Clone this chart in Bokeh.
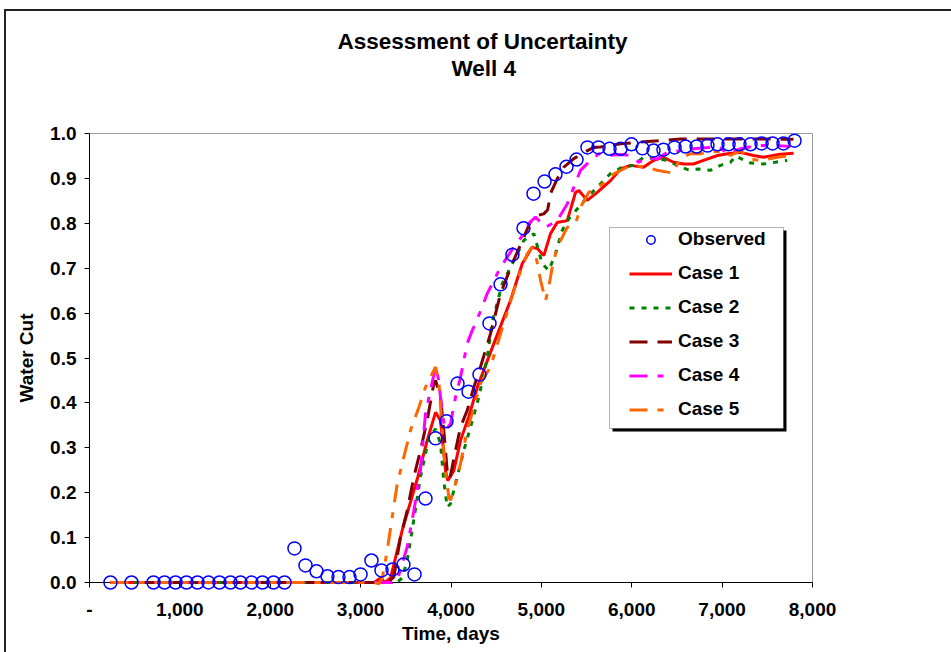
from bokeh.plotting import figure
from bokeh.models import (Range1d, FixedTicker, NumeralTickFormatter, Legend, LegendItem,
                          Title, BoxAnnotation)
from bokeh.embed import file_html
from bokeh.resources import INLINE

# ---------------- data ----------------
obs_days = [232, 465, 708, 830, 952, 1073, 1195, 1317, 1438, 1560, 1671, 1793, 1914, 2036, 2158,
            2268, 2390, 2512, 2633, 2755, 2877, 2999, 3120, 3231, 3353, 3474, 3596, 3718,
            3829, 3950, 4072, 4194, 4315, 4426, 4548, 4680, 4802, 4913, 5035, 5156, 5278, 5389,
            5510, 5632, 5754, 5876, 5997, 6119, 6241, 6351, 6473, 6595, 6717, 6838, 6949, 7071,
            7192, 7314, 7436, 7558, 7679, 7801]
obs_wc = [0.0, 0.0, 0.0, 0.0, 0.0, 0.0, 0.0, 0.0, 0.0, 0.0, 0.0, 0.0, 0.0, 0.0, 0.0,
          0.076, 0.038, 0.025, 0.014, 0.012, 0.012, 0.018, 0.049, 0.027, 0.029, 0.040, 0.018, 0.187,
          0.321, 0.359, 0.443, 0.425, 0.463, 0.577, 0.664, 0.730, 0.789, 0.866, 0.893, 0.909, 0.926, 0.942,
          0.969, 0.969, 0.966, 0.966, 0.976, 0.967, 0.962, 0.964, 0.969, 0.971, 0.971, 0.973, 0.976, 0.976,
          0.976, 0.976, 0.978, 0.978, 0.978, 0.984]

case1_days = [232, 3150, 3220, 3270, 3331, 3460, 3633, 3736, 3829, 3884, 3939, 3965, 4031, 4105, 4197,
              4300, 4474, 4658, 4788, 4898, 4961, 5027, 5101, 5175, 5286, 5378, 5415, 5507, 5618, 5765,
              5876, 5986, 6130, 6241, 6351, 6462, 6573, 6683, 6794, 6949, 7060, 7203, 7347, 7458, 7613, 7790]
case1_wc = [0.0, 0.0, 0.010, 0.0, 0.010, 0.116, 0.235, 0.316, 0.379, 0.361, 0.249, 0.227, 0.249, 0.316, 0.370,
            0.440, 0.532, 0.628, 0.710, 0.747, 0.743, 0.728, 0.777, 0.802, 0.806, 0.869, 0.873, 0.851, 0.869, 0.895,
            0.921, 0.929, 0.925, 0.940, 0.947, 0.936, 0.932, 0.932, 0.940, 0.951, 0.955, 0.958, 0.951, 0.947, 0.953, 0.956]

case2_days = [232, 3300, 3400, 3460, 3515, 3570, 3662, 3718, 3754, 3829, 3884, 3920, 3958, 3994, 4068,
              4142, 4216, 4308, 4400, 4456, 4567, 4677, 4806, 4917, 5009, 5082, 5156, 5230, 5304, 5415,
              5507, 5618, 5765, 5894, 6020, 6130, 6263, 6392, 6503, 6628, 6739, 6871, 6982, 7093, 7150,
              7300, 7458, 7590, 7720]
case2_wc = [0.0, 0.0, 0.0, 0.010, 0.049, 0.116, 0.235, 0.287, 0.324, 0.342, 0.309, 0.227, 0.168, 0.175, 0.235,
            0.294, 0.346, 0.413, 0.500, 0.580, 0.665, 0.710, 0.762, 0.777, 0.710, 0.695, 0.732, 0.784, 0.810, 0.836,
            0.858, 0.880, 0.911, 0.925, 0.929, 0.947, 0.944, 0.940, 0.929, 0.919, 0.921, 0.918, 0.929, 0.936, 0.950,
            0.935, 0.932, 0.936, 0.940]

case3_days = [232, 3300, 3367, 3441, 3515, 3589, 3662, 3736, 3810, 3829, 3884, 3920, 3958, 3987, 4050,
              4105, 4179, 4253, 4326, 4437, 4548, 4677, 4806, 4870, 4935, 5027, 5070, 5101, 5175, 5249,
              5359, 5470, 5581, 5654, 5876, 6097, 6318, 6540, 6761, 7100, 7400, 7790]
case3_wc = [0.0, 0.0, 0.012, 0.101, 0.160, 0.235, 0.294, 0.361, 0.443, 0.450, 0.413, 0.339, 0.249, 0.231, 0.294,
            0.346, 0.383, 0.435, 0.480, 0.554, 0.643, 0.710, 0.769, 0.800, 0.817, 0.821, 0.830, 0.866, 0.899, 0.925,
            0.944, 0.958, 0.969, 0.970, 0.977, 0.981, 0.984, 0.988, 0.988, 0.988, 0.988, 0.987]

case4_days = [232, 3350, 3404, 3515, 3589, 3662, 3718, 3773, 3829, 3865, 3902, 3939, 3994, 4050, 4105,
              4179, 4234, 4271, 4400, 4548, 4695, 4806, 4861, 4935, 5046, 5175, 5286, 5359, 5433, 5544,
              5636, 5728, 5876, 5986, 6078, 6171, 6282, 6392, 6540, 6688, 6850, 6980, 7056, 7203, 7388,
              7609, 7756]
case4_wc = [0.0, 0.0, 0.004, 0.079, 0.160, 0.249, 0.376, 0.428, 0.480, 0.450, 0.376, 0.339, 0.353, 0.413, 0.457,
            0.532, 0.561, 0.576, 0.643, 0.702, 0.747, 0.777, 0.800, 0.814, 0.791, 0.806, 0.843, 0.880, 0.918, 0.940,
            0.955, 0.951, 0.953, 0.951, 0.936, 0.947, 0.943, 0.958, 0.962, 0.966, 0.969, 0.968, 0.955, 0.966, 0.973,
            0.973, 0.971]

case5_days = [232, 3150, 3200, 3240, 3294, 3349, 3405, 3478, 3552, 3644, 3718, 3773, 3829, 3865, 3902,
              3939, 3976, 3994, 4050, 4105, 4179, 4253, 4326, 4437, 4548, 4732, 4843, 4898, 4935, 4991,
              5046, 5082, 5120, 5175, 5286, 5378, 5433, 5525, 5654, 5802, 5986, 6171, 6282, 6392, 6466,
              6503, 6558, 6650, 6761, 6900, 7000, 7093, 7203, 7314, 7425, 7609, 7790]
case5_wc = [0.0, 0.0, -0.003, 0.010, 0.071, 0.145, 0.220, 0.279, 0.339, 0.390, 0.435, 0.457, 0.480, 0.450, 0.339,
            0.249, 0.190, 0.183, 0.220, 0.264, 0.339, 0.390, 0.443, 0.480, 0.554, 0.673, 0.732, 0.747, 0.732, 0.673,
            0.628, 0.658, 0.702, 0.747, 0.791, 0.799, 0.836, 0.869, 0.884, 0.910, 0.929, 0.925, 0.918, 0.914, 0.912,
            0.932, 0.947, 0.955, 0.955, 0.960, 0.960, 0.951, 0.962, 0.943, 0.940, 0.947, 0.951]

x_ticks = [0, 1000, 2000, 3000, 4000, 5000, 6000, 7000, 8000]
y_ticks = [0.0, 0.1, 0.2, 0.3, 0.4, 0.5, 0.6, 0.7, 0.8, 0.9, 1.0]

title_main = "Assessment of Uncertainty"
title_sub = "Well 4"

# ---------------- figure ----------------
FONT = "Liberation Sans"
FS = "19px"

p = figure(width=951, height=652, x_range=Range1d(0, 8000), y_range=Range1d(0, 1.0),
           output_backend="svg", toolbar_location=None,
           min_border_left=89, min_border_right=139, min_border_top=133, min_border_bottom=70)
p.border_fill_color = None
p.background_fill_color = "white"
p.outline_line_color = "#9a9a9a"
p.outline_line_width = 1
p.xgrid.visible = False
p.ygrid.visible = False
p.styles = {"box-shadow": "inset 4px 9px 0 0 white, inset 6px 11px 0 0 #222222",
            "background": "white"}

xax = p.below[0]
yax = p.left[0]
for ax in (xax, yax):
    ax.axis_line_color = "black"
    ax.axis_line_width = 1
    ax.major_tick_line_color = "black"
    ax.major_tick_out = 5
    ax.major_tick_in = 0
    ax.minor_tick_line_color = None
    ax.major_label_text_font = FONT
    ax.major_label_text_font_style = "bold"
    ax.major_label_text_font_size = FS
    ax.major_label_text_color = "black"
    ax.axis_label_text_font = FONT
    ax.axis_label_text_font_style = "bold"
    ax.axis_label_text_font_size = FS
    ax.axis_label_text_color = "black"

xax.ticker = FixedTicker(ticks=x_ticks)
xax.formatter = NumeralTickFormatter(format="0,0")
xax.major_label_overrides = {0: "-"}
xax.axis_label = "Time, days"
xax.major_label_standoff = 15
xax.axis_label_standoff = 4

yax.ticker = FixedTicker(ticks=y_ticks)
yax.formatter = NumeralTickFormatter(format="0.0")
yax.axis_label = "Water Cut"
yax.major_label_standoff = 8
yax.axis_label_standoff = 10

# titles: p.title is outermost; the first item of p.above sits next to the frame
p.title.text = title_main
p.title.align = "left"
p.title.offset = 248
p.title.standoff = 0
p.title.text_font = FONT
p.title.text_font_style = "bold"
p.title.text_font_size = "22.5px"
p.title.text_color = "black"
# blank spacer between the subtitle and the plot frame
p.add_layout(Title(text=" ", align="left", standoff=26,
                   text_font=FONT, text_font_size="22.5px"), "above")
p.add_layout(Title(text=title_sub, align="left", offset=362, standoff=0,
                   text_font=FONT, text_font_style="bold", text_font_size="22.5px",
                   text_color="black"), "above")

LW = 3
r1 = p.line(case1_days, case1_wc, line_color="#FF0000", line_width=LW, level="overlay")
r2 = p.line(case2_days, case2_wc, line_color="#008000", line_width=LW, line_dash="5 7", level="overlay")
r3 = p.line(case3_days, case3_wc, line_color="#800000", line_width=LW, line_dash="18 10", level="overlay")
r4 = p.line(case4_days, case4_wc, line_color="#FF00FF", line_width=LW, line_dash="18 10 6 10", level="overlay")
r5 = p.line(case5_days, case5_wc, line_color="#FF6600", line_width=LW, line_dash="18 10 6 10", level="overlay")
ro = p.scatter(obs_days, obs_wc, marker="circle", size=13, fill_color=None,
               line_color="#0000FF", line_width=1.5, level="overlay")

# legend box with shadow (screen units relative to frame)
shadow = BoxAnnotation(left=523, right=697, top=352, bottom=151,
                       left_units="screen", right_units="screen",
                       top_units="screen", bottom_units="screen",
                       fill_color="black", fill_alpha=1.0, line_color=None)
box = BoxAnnotation(left=520, right=694, top=355, bottom=154,
                    left_units="screen", right_units="screen",
                    top_units="screen", bottom_units="screen",
                    fill_color="white", fill_alpha=1.0, line_color="black", line_width=1)
p.add_layout(shadow)
p.add_layout(box)

legend = Legend(items=[
    LegendItem(label="Observed", renderers=[ro]),
    LegendItem(label="Case 1", renderers=[r1]),
    LegendItem(label="Case 2", renderers=[r2]),
    LegendItem(label="Case 3", renderers=[r3]),
    LegendItem(label="Case 4", renderers=[r4]),
    LegendItem(label="Case 5", renderers=[r5]),
], location=(540, 162))
legend.padding = 0
legend.margin = 0
legend.spacing = 12
legend.glyph_width = 43
legend.glyph_height = 21
legend.label_height = 21
legend.label_standoff = 6
legend.label_text_font = FONT
legend.label_text_font_style = "bold"
legend.label_text_font_size = FS
legend.label_text_color = "black"
legend.border_line_color = None
legend.background_fill_alpha = 0
p.add_layout(legend, "center")

open("out.html", "w").write(file_html(p, INLINE))
